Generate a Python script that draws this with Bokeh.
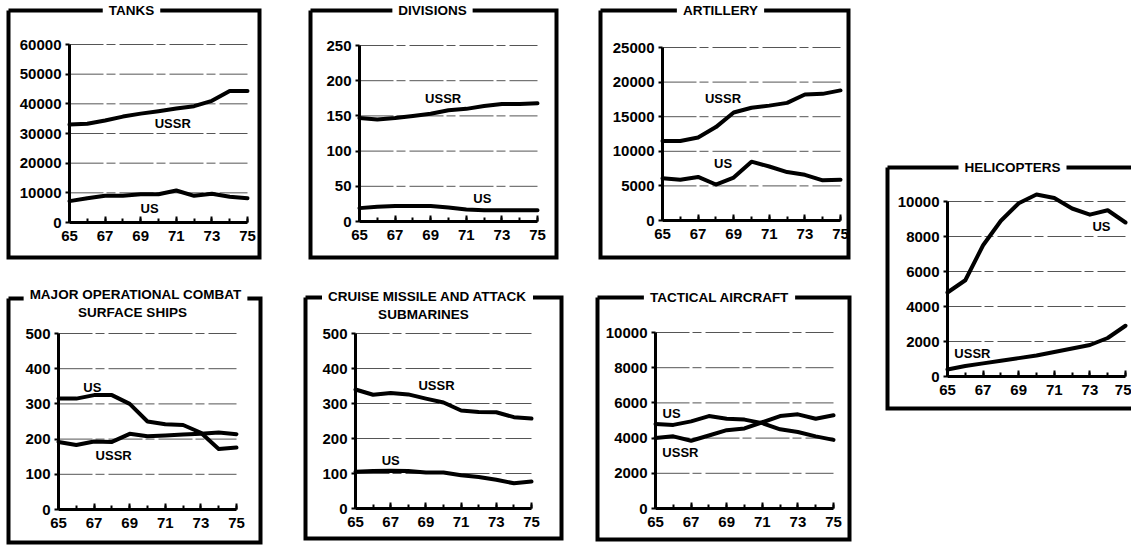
from bokeh.plotting import figure
from bokeh.models import Range1d, FixedTicker, Label
from bokeh.layouts import row, column
from bokeh.embed import file_html
from bokeh.resources import INLINE

# ---------------- data ----------------
years = [65, 66, 67, 68, 69, 70, 71, 72, 73, 74, 75]
year_labels = [65, 67, 69, 71, 73, 75]

tanks_ussr = [33000, 33300, 34400, 35700, 36700, 37500, 38400, 39200, 41000, 44300, 44300]
tanks_us = [7200, 8200, 9000, 9000, 9500, 9500, 10800, 9000, 9700, 8700, 8200]
tanks_ticks = [0, 10000, 20000, 30000, 40000, 50000, 60000]

div_ussr = [147, 145, 147, 150, 153, 158, 160, 164, 167, 167, 168]
div_us = [19, 21, 22, 22, 22, 20, 17, 16, 16, 16, 16]
div_ticks = [0, 50, 100, 150, 200, 250]

art_ussr = [11500, 11500, 12000, 13500, 15600, 16300, 16600, 17000, 18200, 18300, 18800]
art_us = [6100, 5900, 6300, 5200, 6200, 8500, 7800, 7000, 6600, 5800, 5900]
art_ticks = [0, 5000, 10000, 15000, 20000, 25000]

heli_us = [4800, 5500, 7500, 8900, 9900, 10400, 10200, 9600, 9250, 9500, 8800]
heli_ussr = [400, 600, 750, 900, 1050, 1200, 1400, 1600, 1800, 2200, 2900]
heli_ticks = [0, 2000, 4000, 6000, 8000, 10000]

ships_us = [315, 315, 325, 325, 300, 250, 242, 240, 218, 172, 176]
ships_ussr = [192, 183, 193, 192, 215, 208, 210, 213, 215, 219, 214]
ships_ticks = [0, 100, 200, 300, 400, 500]

subs_ussr = [340, 325, 330, 326, 314, 303, 280, 276, 275, 261, 257]
subs_us = [105, 107, 108, 107, 103, 103, 95, 90, 82, 72, 77]
subs_ticks = [0, 100, 200, 300, 400, 500]

tac_us = [4800, 4750, 4950, 5250, 5100, 5050, 4850, 4500, 4350, 4100, 3900]
tac_ussr = [4000, 4100, 3850, 4150, 4450, 4550, 4900, 5250, 5350, 5100, 5300]
tac_ticks = [0, 2000, 4000, 6000, 8000, 10000]

FONT = "Liberation Sans"


def panel(w, h, frame, box, ymax, yticks, series, labels, titles):
    fl, fr, ft, fb = frame
    sx = 10.0 / (fr - fl)
    sy = ymax / float(fb - ft)
    x0 = 65 - fl * sx
    x1 = 75 + (w - fr) * sx
    y0 = 0 - (h - fb) * sy
    y1 = ymax + ft * sy

    def X(px):
        return x0 + px * sx

    def Y(py):
        return y1 - py * sy

    p = figure(width=w, height=h, x_range=Range1d(x0, x1), y_range=Range1d(y0, y1),
               output_backend="svg", toolbar_location=None, title=None,
               min_border=0, min_border_left=0, min_border_right=0,
               min_border_top=0, min_border_bottom=0)
    p.background_fill_color = "white"
    p.border_fill_color = "white"
    p.outline_line_color = None
    p.xgrid.visible = False
    p.ygrid.visible = False

    xa = p.xaxis[0]
    xa.fixed_location = 0
    xa.bounds = (65, 75)
    xa.ticker = FixedTicker(ticks=year_labels, minor_ticks=years)
    xa.axis_line_width = 3
    xa.major_tick_in = 6
    xa.major_tick_out = 0
    xa.minor_tick_in = 4
    xa.minor_tick_out = 0
    xa.major_tick_line_width = 2
    xa.minor_tick_line_width = 2
    xa.major_label_text_font = FONT
    xa.major_label_text_font_style = "bold"
    xa.major_label_text_font_size = "15px"
    xa.major_label_text_color = "black"
    xa.major_label_standoff = 8

    ya = p.yaxis[0]
    ya.fixed_location = 65
    ya.bounds = (0, ymax)
    ya.ticker = FixedTicker(ticks=yticks, minor_ticks=[])
    ya.axis_line_width = 3
    ya.major_tick_in = 0
    ya.major_tick_out = 4
    ya.major_tick_line_width = 2
    ya.minor_tick_out = 0
    ya.minor_tick_in = 0
    ya.major_label_text_font = FONT
    ya.major_label_text_font_style = "bold"
    ya.major_label_text_font_size = "15px"
    ya.major_label_text_color = "black"
    ya.major_label_standoff = 4

    # horizontal grid lines at the y ticks, spanning the year range only
    gy = [t for t in yticks if t > 0]
    p.segment(x0=[65] * len(gy), y0=gy, x1=[75] * len(gy), y1=gy,
              line_color="#555555", line_width=1, line_dash="34 3 9 4")

    # panel frame
    bl, bt, br, bb = box
    p.line([X(bl), X(bl), X(br), X(br), X(bl)], [Y(bt), Y(bb), Y(bb), Y(bt), Y(bt)],
           line_color="black", line_width=4, line_join="miter")

    for vals in series:
        p.line(years, vals, line_width=4, line_color="black", line_join="round", line_cap="round")

    for txt, x, y in labels:
        p.add_layout(Label(x=x, y=y, text=txt, text_align="center", text_baseline="middle",
                           text_font=FONT, text_font_style="bold", text_font_size="13px",
                           text_color="black"))

    for txt, cx, cy, bg in titles:
        p.add_layout(Label(x=X(cx), y=Y(cy), text=txt,
                           text_align="center", text_baseline="middle",
                           text_font=FONT, text_font_style="bold", text_font_size="13.5px",
                           text_color="black",
                           background_fill_color="white" if bg else None,
                           padding=6))
    return p


p_tanks = panel(285, 275, (69, 247, 44, 222), (8, 10, 259, 257), 60000, tanks_ticks,
                [tanks_ussr, tanks_us],
                [("USSR", 70.8, 33400), ("US", 69.5, 4700)],
                [("TANKS", 131, 10, True)])
p_div = panel(290, 275, (74, 252, 45, 221), (25, 10, 271, 257), 250, div_ticks,
              [div_ussr, div_us],
              [("USSR", 69.7, 175), ("US", 71.9, 33)],
              [("DIVISIONS", 147, 10, True)])
p_art = panel(295, 275, (87, 265, 47, 220), (25, 10, 273, 257), 25000, art_ticks,
              [art_ussr, art_us],
              [("USSR", 68.4, 17600), ("US", 68.4, 8200)],
              [("ARTILLERY", 145, 10, True)])
p_ships = panel(285, 271, (58, 236, 58, 234), (8, 23, 260, 267), 500, ships_ticks,
                [ships_us, ships_ussr],
                [("US", 66.9, 347), ("USSR", 68.1, 153)],
                [("MAJOR OPERATIONAL COMBAT", 135, 19, True), ("SURFACE SHIPS", 132, 37, False)])
p_subs = panel(290, 271, (70, 246, 58, 233), (20, 22, 276, 263), 500, subs_ticks,
               [subs_ussr, subs_us],
               [("USSR", 69.6, 351), ("US", 67.0, 137)],
               [("CRUISE MISSILE AND ATTACK", 142, 21, True), ("SUBMARINES", 138, 39, False)])
p_tac = panel(295, 271, (80, 258, 57, 233), (22, 22, 274, 264), 10000, tac_ticks,
              [tac_us, tac_ussr],
              [("US", 65.9, 5400), ("USSR", 66.4, 3200)],
              [("TACTICAL AIRCRAFT", 144, 22, True)])
p_heli = panel(261, 546, (77, 255, 201, 376), (17, 167, 275, 408), 10000, heli_ticks,
               [heli_us, heli_ussr],
               [("US", 73.65, 8600), ("USSR", 66.4, 1300)],
               [("HELICOPTERS", 142, 167, True)])

root = row(column(row(p_tanks, p_div, p_art), row(p_ships, p_subs, p_tac)), p_heli)

open("out.html", "w").write(file_html(root, INLINE))
